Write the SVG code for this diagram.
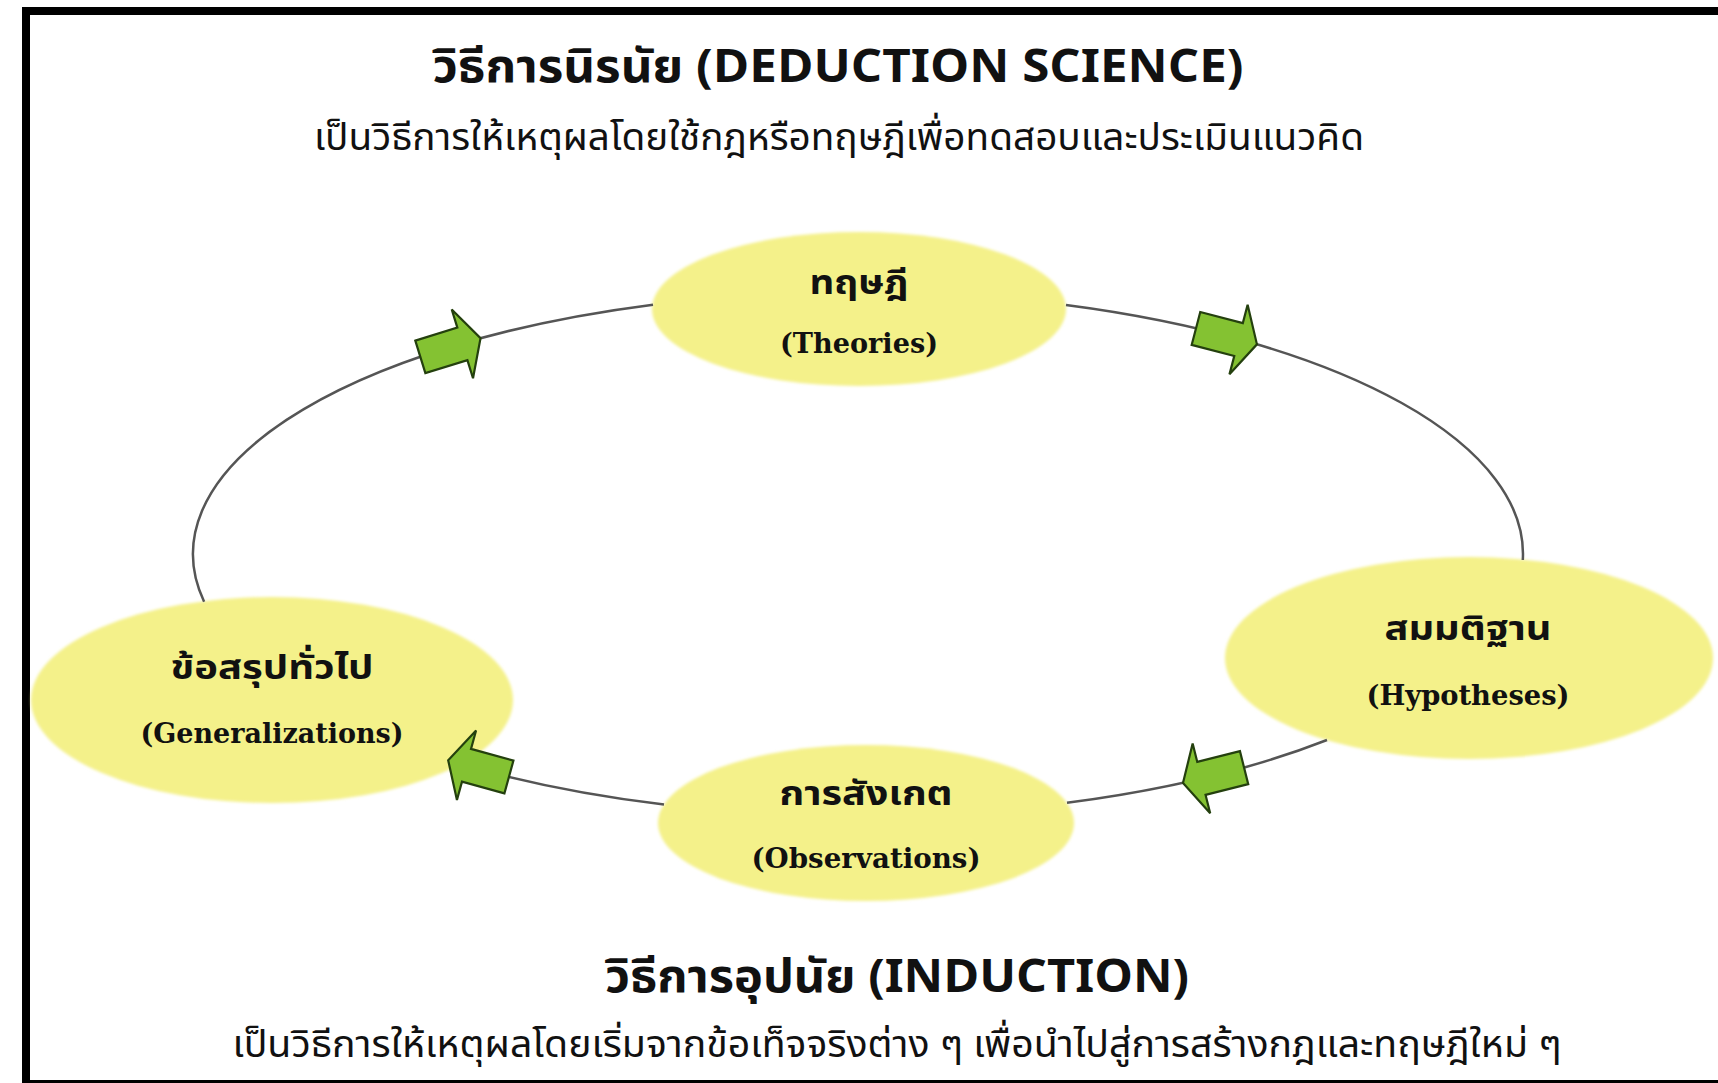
<svg xmlns="http://www.w3.org/2000/svg" xmlns:xlink="http://www.w3.org/1999/xlink" width="1718" height="1083" viewBox="0 0 1718 1083">
<style>
.frame{fill:none;stroke:#000;stroke-width:8}
.node{fill:#f4f18a}
.ring{fill:none;stroke:#555;stroke-width:2.5}
.arrow{fill:#84c232;stroke:#24400e;stroke-width:2.2;stroke-linejoin:miter}
.th{font-family:"Noto Sans Thai","Tahoma","Noto Sans","DejaVu Sans",sans-serif;font-weight:bold;fill:#111;text-anchor:middle}
.en{font-family:"DejaVu Serif","Liberation Serif",serif;font-weight:bold;fill:#111;text-anchor:middle}
.title{font-family:"Noto Sans Thai","Liberation Sans Narrow","Liberation Sans",sans-serif;font-weight:bold;fill:#111;text-anchor:middle}
.sub{font-family:"Noto Sans Thai","Liberation Sans Narrow","Liberation Sans",sans-serif;fill:#111;text-anchor:middle}
</style>
<defs>
<filter id="soft" x="-5%" y="-5%" width="110%" height="110%"><feGaussianBlur stdDeviation="1.5"/></filter>
<path id="arr" d="M -30,-17 L 14,-17 L 14,-36 L 33,0 L 14,36 L 14,17 L -30,17 Z"/>
</defs>
<rect width="1718" height="1083" fill="#fff"/>
<rect class="frame" x="26" y="11" width="1710" height="1073"/>

<g id="node-theories">
<ellipse class="node" cx="859" cy="309" rx="207" ry="77" filter="url(#soft)"/>
<text class="th" x="859" y="294" font-size="34" textLength="99" lengthAdjust="spacingAndGlyphs">ทฤษฎี</text>
<text class="en" x="859" y="353" font-size="27" textLength="158" lengthAdjust="spacingAndGlyphs">(Theories)</text>
</g>

<g id="node-hypotheses">
<ellipse class="node" cx="1469" cy="658" rx="244" ry="101" filter="url(#soft)"/>
<text class="th" x="1468" y="640" font-size="34" textLength="167" lengthAdjust="spacingAndGlyphs">สมมติฐาน</text>
<text class="en" x="1468" y="705" font-size="27" textLength="203" lengthAdjust="spacingAndGlyphs">(Hypotheses)</text>
</g>

<g id="node-observations">
<ellipse class="node" cx="866" cy="823" rx="208" ry="78" filter="url(#soft)"/>
<text class="th" x="866" y="805" font-size="34" textLength="173" lengthAdjust="spacingAndGlyphs">การสังเกต</text>
<text class="en" x="866" y="868" font-size="27" textLength="229" lengthAdjust="spacingAndGlyphs">(Observations)</text>
</g>

<g id="node-generalizations">
<ellipse class="node" cx="272" cy="700" rx="241" ry="103" filter="url(#soft)"/>
<text class="th" x="272" y="679" font-size="34" textLength="203" lengthAdjust="spacingAndGlyphs">ข้อสรุปทั่วไป</text>
<text class="en" x="272" y="743" font-size="27" textLength="263" lengthAdjust="spacingAndGlyphs">(Generalizations)</text>
</g>

<g id="connectors">
<path class="ring" d="M 204.1,601.7 A 665 262 0 0 1 653,304.7"/>
<path class="ring" d="M 1066,305 A 665 262 0 0 1 1522.8,560"/>
<path class="ring" d="M 1327,740 A 665 262 0 0 1 1067,802.8"/>
<path class="ring" d="M 664,804.6 A 665 262 0 0 1 461,764.2"/>
<use xlink:href="#arr" class="arrow" transform="translate(449,348) rotate(-17.2)"/>
<use xlink:href="#arr" class="arrow" transform="translate(1225,336) rotate(14.6)"/>
<use xlink:href="#arr" class="arrow" transform="translate(1215,775) rotate(165.9)"/>
<use xlink:href="#arr" class="arrow" transform="translate(480,769) rotate(195.4)"/>
</g>

<g id="titles">
<text class="title" x="838" y="82" font-size="46" textLength="811" lengthAdjust="spacingAndGlyphs">วิธีการนิรนัย (DEDUCTION SCIENCE)</text>
<text class="sub" x="839" y="150" font-size="37" textLength="1050" lengthAdjust="spacingAndGlyphs">เป็นวิธีการให้เหตุผลโดยใช้กฎหรือทฤษฎีเพื่อทดสอบและประเมินแนวคิด</text>
<text class="title" x="897" y="992" font-size="46" textLength="584" lengthAdjust="spacingAndGlyphs">วิธีการอุปนัย (INDUCTION)</text>
<text class="sub" x="897" y="1057" font-size="37" textLength="1329" lengthAdjust="spacingAndGlyphs">เป็นวิธีการให้เหตุผลโดยเริ่มจากข้อเท็จจริงต่าง ๆ เพื่อนำไปสู่การสร้างกฎและทฤษฎีใหม่ ๆ</text>
</g>
</svg>
